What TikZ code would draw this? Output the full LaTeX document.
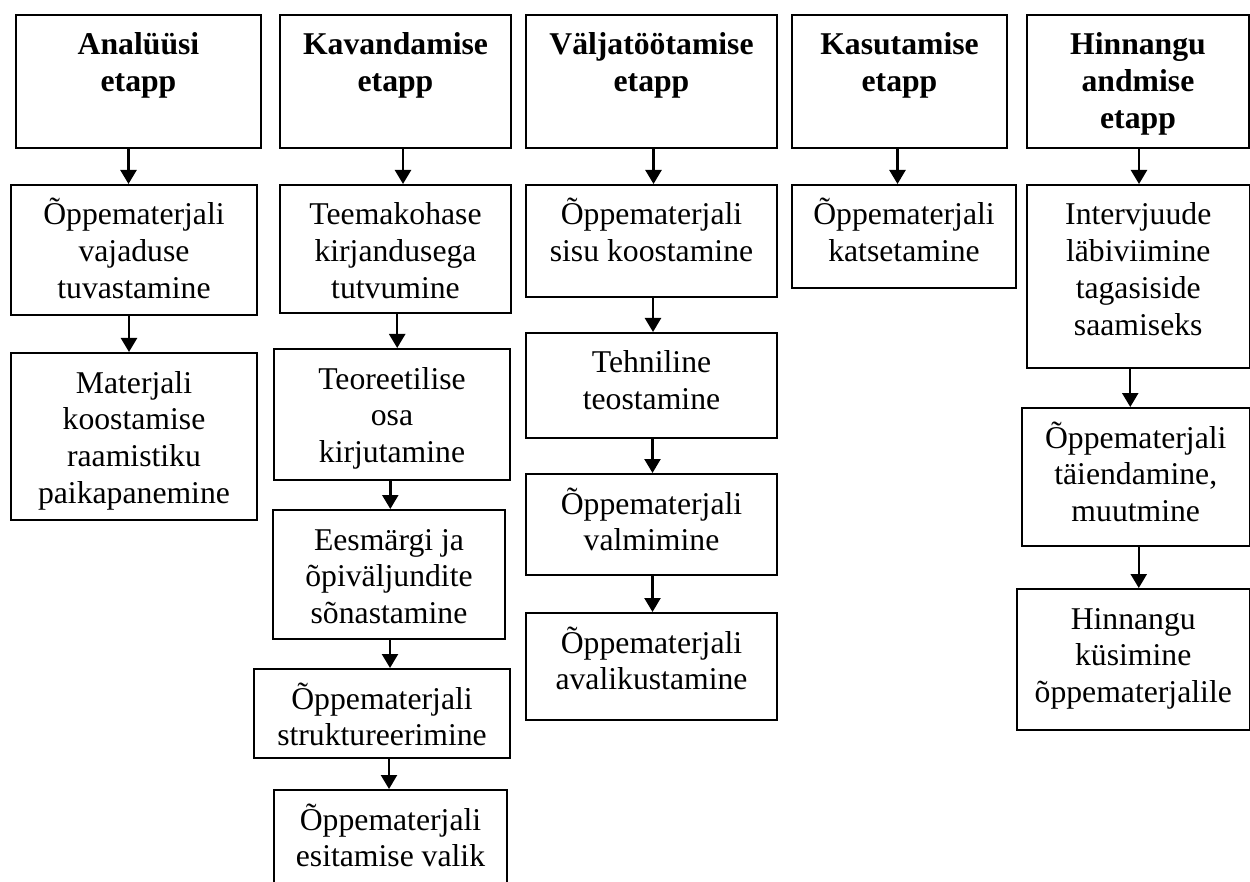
\documentclass[tikz,border=0pt]{standalone}
\usepackage{fontspec}
\setmainfont{Liberation Serif}
\usetikzlibrary{arrows.meta}
\newcommand\fsz{\fontsize{31.7pt}{36.8pt}\selectfont}
\newcommand\stagebox[7]{%
  \node[#2, anchor=north west] (#1) at (#3,#4)
    {\parbox[t][\dimexpr #6pt-#4pt\relax][t]{\dimexpr #5pt-#3pt\relax}{\centering\fsz\rule{0pt}{40pt}#7}};}
\tikzset{
  boxst/.style={draw, line width=2pt, inner sep=0pt, font=\fsz},
  hdr/.style={boxst, font=\fsz\bfseries},
  arr/.style={line width=2.4pt, -{Triangle[length=14pt,width=16pt]}},
}
\begin{document}
\begin{tikzpicture}[x=1pt,y=-1pt]
\useasboundingbox (0,0) rectangle (1250,882);
\clip (0,0) rectangle (1250,882);
% column 1
\stagebox{h1}{hdr}{15}{14}{260}{147}{Analüüsi\\etapp}
\stagebox{a2}{boxst}{10}{184}{256}{314}{Õppematerjali\\vajaduse\\tuvastamine}
\stagebox{a3}{boxst}{10}{352}{256}{519}{Materjali\\koostamise\\raamistiku\\paikapanemine}
% column 2
\stagebox{h2}{hdr}{279}{14}{510}{147}{Kavandamise\\etapp}
\stagebox{k2}{boxst}{279}{184}{510}{312}{Teemakohase\\kirjandusega\\tutvumine}
\stagebox{k3}{boxst}{273}{348}{509}{479}{Teoreetilise\\osa\\kirjutamine}
\stagebox{k4}{boxst}{272}{509}{504}{638}{Eesmärgi ja\\õpiväljundite\\sõnastamine}
\stagebox{k5}{boxst}{253}{668}{509}{757}{Õppematerjali\\struktureerimine}
\stagebox{k6}{boxst}{273}{789}{506}{900}{Õppematerjali\\esitamise valik}
% column 3
\stagebox{h3}{hdr}{525}{14}{776}{147}{Väljatöötamise\\etapp}
\stagebox{v2}{boxst}{525}{184}{776}{296}{Õppematerjali\\sisu koostamine}
\stagebox{v3}{boxst}{525}{332}{776}{437}{Tehniline\\teostamine}
\stagebox{v4}{boxst}{525}{473}{776}{574}{Õppematerjali\\valmimine}
\stagebox{v5}{boxst}{525}{612}{776}{719}{Õppematerjali\\avalikustamine}
% column 4
\stagebox{h4}{hdr}{791}{14}{1006}{147}{Kasutamise\\etapp}
\stagebox{u2}{boxst}{791}{184}{1015}{287}{Õppematerjali\\katsetamine}
% column 5
\stagebox{h5}{hdr}{1026}{14}{1248}{147}{Hinnangu\\andmise\\etapp}
\stagebox{n2}{boxst}{1026}{184}{1248.5}{367}{Intervjuude\\läbiviimine\\tagasiside\\saamiseks}
\stagebox{n3}{boxst}{1021}{407}{1248.5}{545}{Õppematerjali\\täiendamine,\\muutmine}
\stagebox{n4}{boxst}{1016}{588}{1248.5}{729}{Hinnangu\\küsimine\\õppematerjalile}
% arrows
\draw[arr] ([xshift=-10pt]h1.south) -- ([xshift=-10pt]h1.south |- a2.north);
\draw[arr] ([xshift=-5pt]a2.south) -- ([xshift=-5pt]a2.south |- a3.north);
\draw[arr] ([xshift=7.5pt]h2.south) -- ([xshift=7.5pt]h2.south |- k2.north);
\draw[arr] ([xshift=1.7pt]k2.south) -- ([xshift=1.7pt]k2.south |- k3.north);
\draw[arr] ([xshift=-1.7pt]k3.south) -- ([xshift=-1.7pt]k3.south |- k4.north);
\draw[arr] ([xshift=1pt]k4.south) -- ([xshift=1pt]k4.south |- k5.north);
\draw[arr] ([xshift=7pt]k5.south) -- ([xshift=7pt]k5.south |- k6.north);
\draw[arr] ([xshift=2pt]h3.south) -- ([xshift=2pt]h3.south |- v2.north);
\draw[arr] ([xshift=1.5pt]v2.south) -- ([xshift=1.5pt]v2.south |- v3.north);
\draw[arr] ([xshift=1pt]v3.south) -- ([xshift=1pt]v3.south |- v4.north);
\draw[arr] ([xshift=1pt]v4.south) -- ([xshift=1pt]v4.south |- v5.north);
\draw[arr] ([xshift=-2pt]h4.south) -- ([xshift=-2pt]h4.south |- u2.north);
\draw[arr] ([xshift=1pt]h5.south) -- ([xshift=1pt]h5.south |- n2.north);
\draw[arr] ([xshift=-8pt]n2.south) -- ([xshift=-8pt]n2.south |- n3.north);
\draw[arr] ([xshift=3pt]n3.south) -- ([xshift=3pt]n3.south |- n4.north);
\end{tikzpicture}
\end{document}
